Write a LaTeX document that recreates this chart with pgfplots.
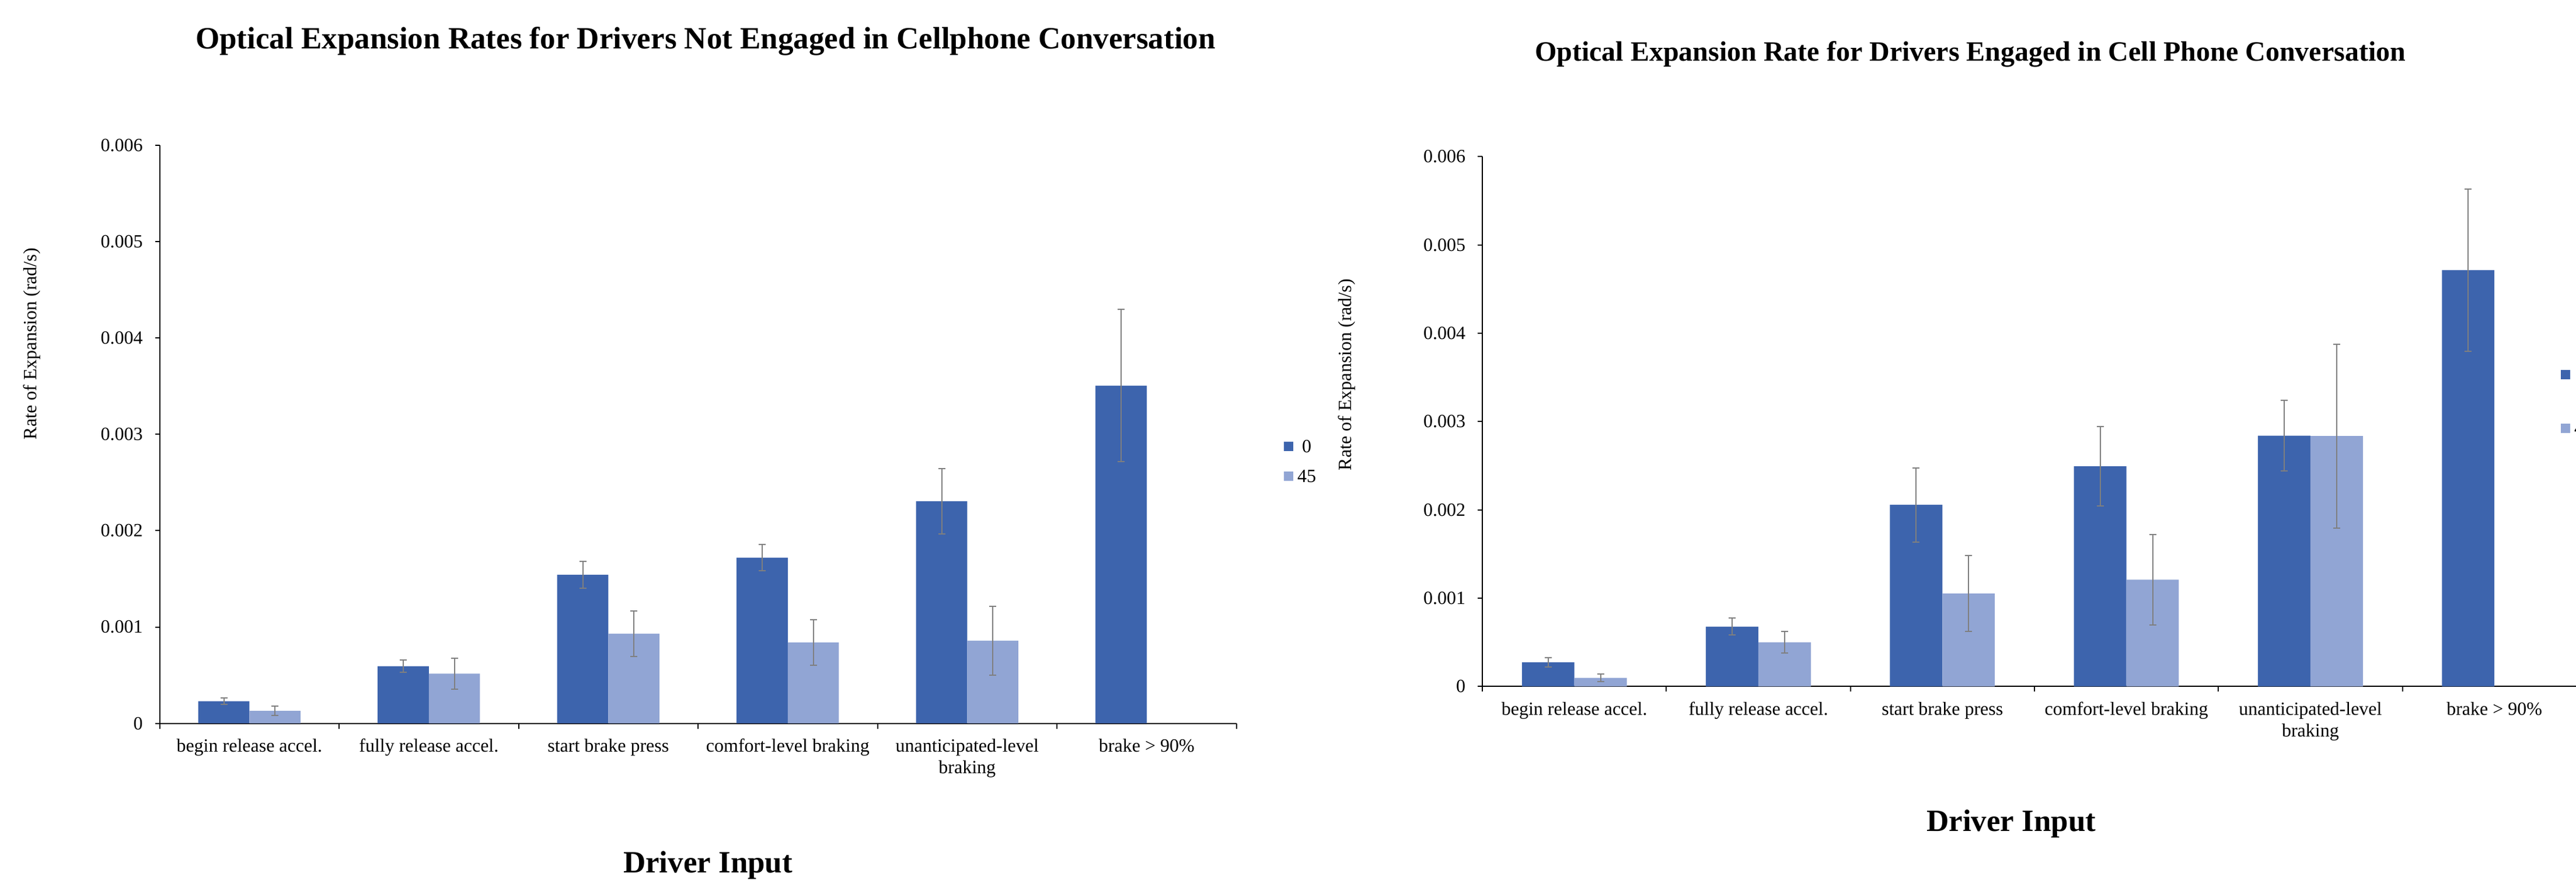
\documentclass[border=0pt]{standalone}
\usepackage{fontspec}
\setmainfont{Liberation Serif}
\usepackage{pgfplots}
\pgfplotsset{compat=1.18}

\definecolor{barA}{HTML}{3D64AD}
\definecolor{barB}{HTML}{91A5D4}
\definecolor{errgray}{HTML}{7F7F7F}
\newcommand{\smallfont}{\fontsize{6.4}{7.4}\selectfont}

\pgfplotsset{
  ybar legend/.style={legend image code/.code={\fill[##1] (0pt,-1.6pt) rectangle (3.2pt,1.6pt);}},
  drvbars/.style={
    ybar, scale only axis, anchor=south west,
    xmin=-0.5, xmax=5.5, ymin=0, ymax=0.006, enlargelimits=false,
    axis x line*=bottom, axis y line*=left,
    axis line style={line width=0.4pt, black},
    tick align=outside,
    xtick={0,...,5}, minor xtick={-0.5,0.5,...,5.5},
    major x tick style={draw=none},
    minor x tick style={black, line width=0.4pt},
    minor tick length=1.8pt, major tick length=1.6pt,
    major y tick style={black, line width=0.4pt},
    ytick={0,0.001,0.002,0.003,0.004,0.005,0.006},
    yticklabels={0,0.001,0.002,0.003,0.004,0.005,0.006},
    scaled y ticks=false,
    xticklabels={begin release accel., fully release accel., start brake press,
      comfort-level braking, {unanticipated-level\\braking}, brake > 90\%},
    xticklabel style={font=\smallfont, anchor=north, inner sep=0pt, align=center, yshift=-3.5pt},
    yticklabel style={font=\smallfont, anchor=east, inner sep=0pt, xshift=-4pt},
    bar width=0.285,
    legend entries={0,45},
    error bars/y dir=both, error bars/y explicit,
    error bars/error bar style={color=errgray, line width=0.4pt},
    error bars/error mark options={rotate=90, mark size=1.2pt, color=errgray, line width=0.4pt},
  },
}

\begin{document}
\begin{tikzpicture}
\path (0pt,0pt) rectangle (882.8pt,-301.6pt);

% drivers not engaged in a conversation
\begin{axis}[drvbars,
  at={(54.72pt,-247.92pt)}, width=369pt, height=198.1pt,
  title={Optical Expansion Rates for Drivers Not Engaged in Cellphone Conversation},
  every axis title/.style={at={(axis description cs:0.507,1.1677)}, anchor=base,
    font=\fontsize{10.6}{12}\selectfont\bfseries},
  xlabel={Driver Input},
  every axis x label/.style={at={(axis description cs:0.5092,-0.2579)}, anchor=base,
    font=\fontsize{10.6}{12}\selectfont\bfseries},
  ylabel={Rate of Expansion (rad/s)},
  every axis y label/.style={at={(axis description cs:-0.1185,0.6568)}, rotate=90,
    anchor=center, font=\smallfont},
  legend style={at={(axis description cs:1.0436,0.4534)}, anchor=west, draw=none,
    fill=none, font=\smallfont, inner sep=0pt, row sep=5.9pt, column sep=1.4pt,
    nodes={inner sep=0pt, text depth=0pt}},
]
\addplot[fill=barA, draw=none, bar shift=-0.1425] coordinates {
  (0,0.000230) +- (0,0.000035)
  (1,0.000594) +- (0,0.000065)
  (2,0.001543) +- (0,0.000138)
  (3,0.001721) +- (0,0.000138)
  (4,0.002306) +- (0,0.000340)
  (5,0.003506) +- (0,0.000790)
};
\addplot[fill=barB, draw=none, bar shift=0.1425] coordinates {
  (0,0.000130) +- (0,0.000048)
  (1,0.000517) +- (0,0.000160)
  (2,0.000931) +- (0,0.000236)
  (3,0.000841) +- (0,0.000236)
  (4,0.000858) +- (0,0.000357)
};
\end{axis}

% drivers engaged in a cell phone conversation
\begin{axis}[drvbars,
  at={(508pt,-235.28pt)}, width=378.36pt, height=181.64pt,
  title={Optical Expansion Rate for Drivers Engaged in Cell Phone Conversation},
  every axis title/.style={at={(axis description cs:0.4419,1.1808)}, anchor=base,
    font=\fontsize{9.6}{11}\selectfont\bfseries},
  xlabel={Driver Input},
  every axis x label/.style={at={(axis description cs:0.479,-0.2737)}, anchor=base,
    font=\fontsize{10.6}{12}\selectfont\bfseries},
  ylabel={Rate of Expansion (rad/s)},
  every axis y label/.style={at={(axis description cs:-0.1226,0.5884)}, rotate=90,
    anchor=center, font=\smallfont},
  legend style={at={(axis description cs:0.9763,0.5378)}, anchor=west, draw=none,
    fill=none, font=\smallfont, inner sep=0pt, row sep=14.1pt, column sep=1.4pt,
    nodes={inner sep=0pt, text depth=0pt}},
]
\addplot[fill=barA, draw=none, bar shift=-0.1425] coordinates {
  (0,0.000274) +- (0,0.000051)
  (1,0.000678) +- (0,0.000095)
  (2,0.002056) +- (0,0.000420)
  (3,0.002494) +- (0,0.000450)
  (4,0.002840) +- (0,0.000400)
  (5,0.004714) +- (0,0.000920)
};
\addplot[fill=barB, draw=none, bar shift=0.1425] coordinates {
  (0,0.000097) +- (0,0.000042)
  (1,0.000501) +- (0,0.000125)
  (2,0.001053) +- (0,0.000430)
  (3,0.001209) +- (0,0.000510)
  (4,0.002836) +- (0,0.001040)
};
\end{axis}

\pgfresetboundingbox
\path[use as bounding box] (0pt,0pt) rectangle (882.8pt,-301.6pt);
\end{tikzpicture}
\end{document}
